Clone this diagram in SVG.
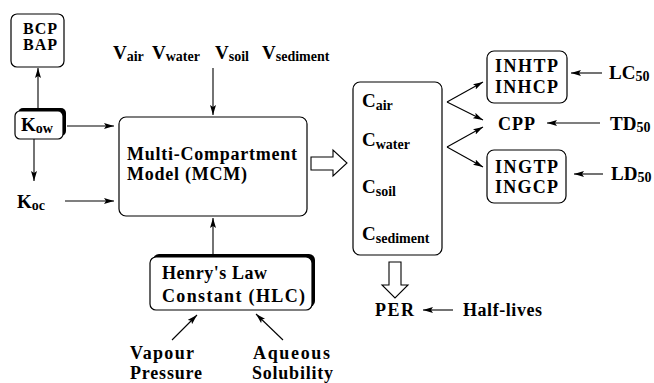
<svg xmlns="http://www.w3.org/2000/svg" width="654" height="383" viewBox="0 0 654 383">
<defs>
<style>
text{font-family:"Liberation Serif","Times New Roman",Times,serif;font-weight:700;font-size:18px;fill:#000}
.sub{font-size:14px}
.big{font-size:19px}
.sm{font-size:16px}
.box{fill:#fff;stroke:#000;stroke-width:1.2}
.ln{stroke:#000;stroke-width:1.1;fill:none}
.hollow{fill:#fff;stroke:#000;stroke-width:1.1}
</style>
<marker id="ah" viewBox="0 0 10 6" refX="10" refY="3" markerWidth="10" markerHeight="6" markerUnits="userSpaceOnUse" orient="auto">
<path d="M0,0 L10,3 L0,6 L2,3 Z" fill="#000"/>
</marker>
</defs>
<rect width="654" height="383" fill="#fff"/>

<g id="connectors">
<line class="ln" x1="38" y1="108" x2="38" y2="68" marker-end="url(#ah)"/>
<line class="ln" x1="34" y1="139" x2="34" y2="181" marker-end="url(#ah)"/>
<line class="ln" x1="67" y1="126" x2="114" y2="126" marker-end="url(#ah)"/>
<line class="ln" x1="65" y1="201" x2="114" y2="201" marker-end="url(#ah)"/>
<line class="ln" x1="213" y1="68" x2="213" y2="115" marker-end="url(#ah)"/>
<line class="ln" x1="213" y1="255" x2="213" y2="218" marker-end="url(#ah)"/>
<line class="ln" x1="172" y1="340" x2="197" y2="315" marker-end="url(#ah)"/>
<line class="ln" x1="283" y1="340" x2="256" y2="314" marker-end="url(#ah)"/>
<path class="hollow" d="M311,157 L333,157 L333,150 L347,163 L333,176 L333,170 L311,170 Z"/>
<path class="hollow" d="M389,262 L401,262 L401,285 L408,285 L395,298 L382,285 L389,285 Z"/>
<line class="ln" x1="447" y1="102" x2="483" y2="82" marker-end="url(#ah)"/>
<line class="ln" x1="447" y1="102" x2="483" y2="120" marker-end="url(#ah)"/>
<line class="ln" x1="447" y1="147" x2="483" y2="127" marker-end="url(#ah)"/>
<line class="ln" x1="447" y1="147" x2="483" y2="167" marker-end="url(#ah)"/>
<line class="ln" x1="602" y1="73" x2="571" y2="73" marker-end="url(#ah)"/>
<line class="ln" x1="600" y1="123" x2="547" y2="123" marker-end="url(#ah)"/>
<line class="ln" x1="603" y1="174" x2="574" y2="174" marker-end="url(#ah)"/>
<line class="ln" x1="453" y1="310" x2="423" y2="310" marker-end="url(#ah)"/>
</g>

<g id="bcp">
<rect class="box" x="11" y="14" width="53" height="53" rx="6"/>
<text x="23" y="34" class="sm" textLength="34">BCP</text>
<text x="23" y="50" class="sm" textLength="34">BAP</text>
</g>

<g id="kow">
<rect x="18" y="108" width="48" height="28" rx="5" fill="#000"/>
<rect class="box" x="15" y="111" width="48" height="28" rx="5"/>
<text x="21" y="131" class="big">K<tspan class="sub" dy="2">ow</tspan></text>
</g>

<g id="koc">
<text x="17" y="208" class="big">K<tspan class="sub" dy="2">oc</tspan></text>
</g>

<g id="volumes">
<text x="113" y="59" class="big">V<tspan class="sub" dy="2">air</tspan></text>
<text x="152" y="59" class="big">V<tspan class="sub" dy="2">water</tspan></text>
<text x="215" y="59" class="big">V<tspan class="sub" dy="2">soil</tspan></text>
<text x="262" y="59" class="big">V<tspan class="sub" dy="2">sediment</tspan></text>
</g>

<g id="mcm">
<rect class="box" x="119" y="117" width="188" height="99" rx="7"/>
<text x="127" y="160" textLength="170">Multi-Compartment</text>
<text x="127" y="180" textLength="120">Model (MCM)</text>
</g>

<g id="hlc">
<rect x="153" y="254" width="162" height="53" rx="6" fill="#000"/>
<rect class="box" x="150" y="257" width="162" height="53" rx="6"/>
<text x="162" y="279" textLength="105">Henry's Law</text>
<text x="162" y="302" textLength="143">Constant (HLC)</text>
</g>

<g id="vapour">
<text x="130" y="359" textLength="64">Vapour</text>
<text x="130" y="379" textLength="72">Pressure</text>
</g>

<g id="aqueous">
<text x="253" y="359" textLength="77">Aqueous</text>
<text x="252" y="379" textLength="81">Solubility</text>
</g>

<g id="conc">
<rect class="box" x="353" y="82" width="89" height="173" rx="7"/>
<text x="362" y="107" class="big">C<tspan class="sub" dy="3">air</tspan></text>
<text x="362" y="146" class="big">C<tspan class="sub" dy="3">water</tspan></text>
<text x="362" y="193" class="big">C<tspan class="sub" dy="3">soil</tspan></text>
<text x="362" y="240" class="big">C<tspan class="sub" dy="3">sediment</tspan></text>
</g>

<g id="inh">
<rect class="box" x="487" y="51" width="80" height="52" rx="7"/>
<text x="495" y="72" textLength="63">INHTP</text>
<text x="495" y="93" textLength="63">INHCP</text>
</g>

<g id="lc50">
<text x="609" y="79" class="big">LC<tspan class="sub" dy="2">50</tspan></text>
</g>

<g id="cpp">
<text x="498" y="130" textLength="37">CPP</text>
</g>

<g id="td50">
<text x="610" y="130" class="big">TD<tspan class="sub" dy="2">50</tspan></text>
</g>

<g id="ing">
<rect class="box" x="487" y="150" width="79" height="53" rx="7"/>
<text x="495" y="173" textLength="63">INGTP</text>
<text x="495" y="193" textLength="63">INGCP</text>
</g>

<g id="ld50">
<text x="611" y="180" class="big">LD<tspan class="sub" dy="2">50</tspan></text>
</g>

<g id="per">
<text x="375" y="316" textLength="39">PER</text>
</g>

<g id="halflives">
<text x="463" y="316" textLength="79">Half-lives</text>
</g>
</svg>
